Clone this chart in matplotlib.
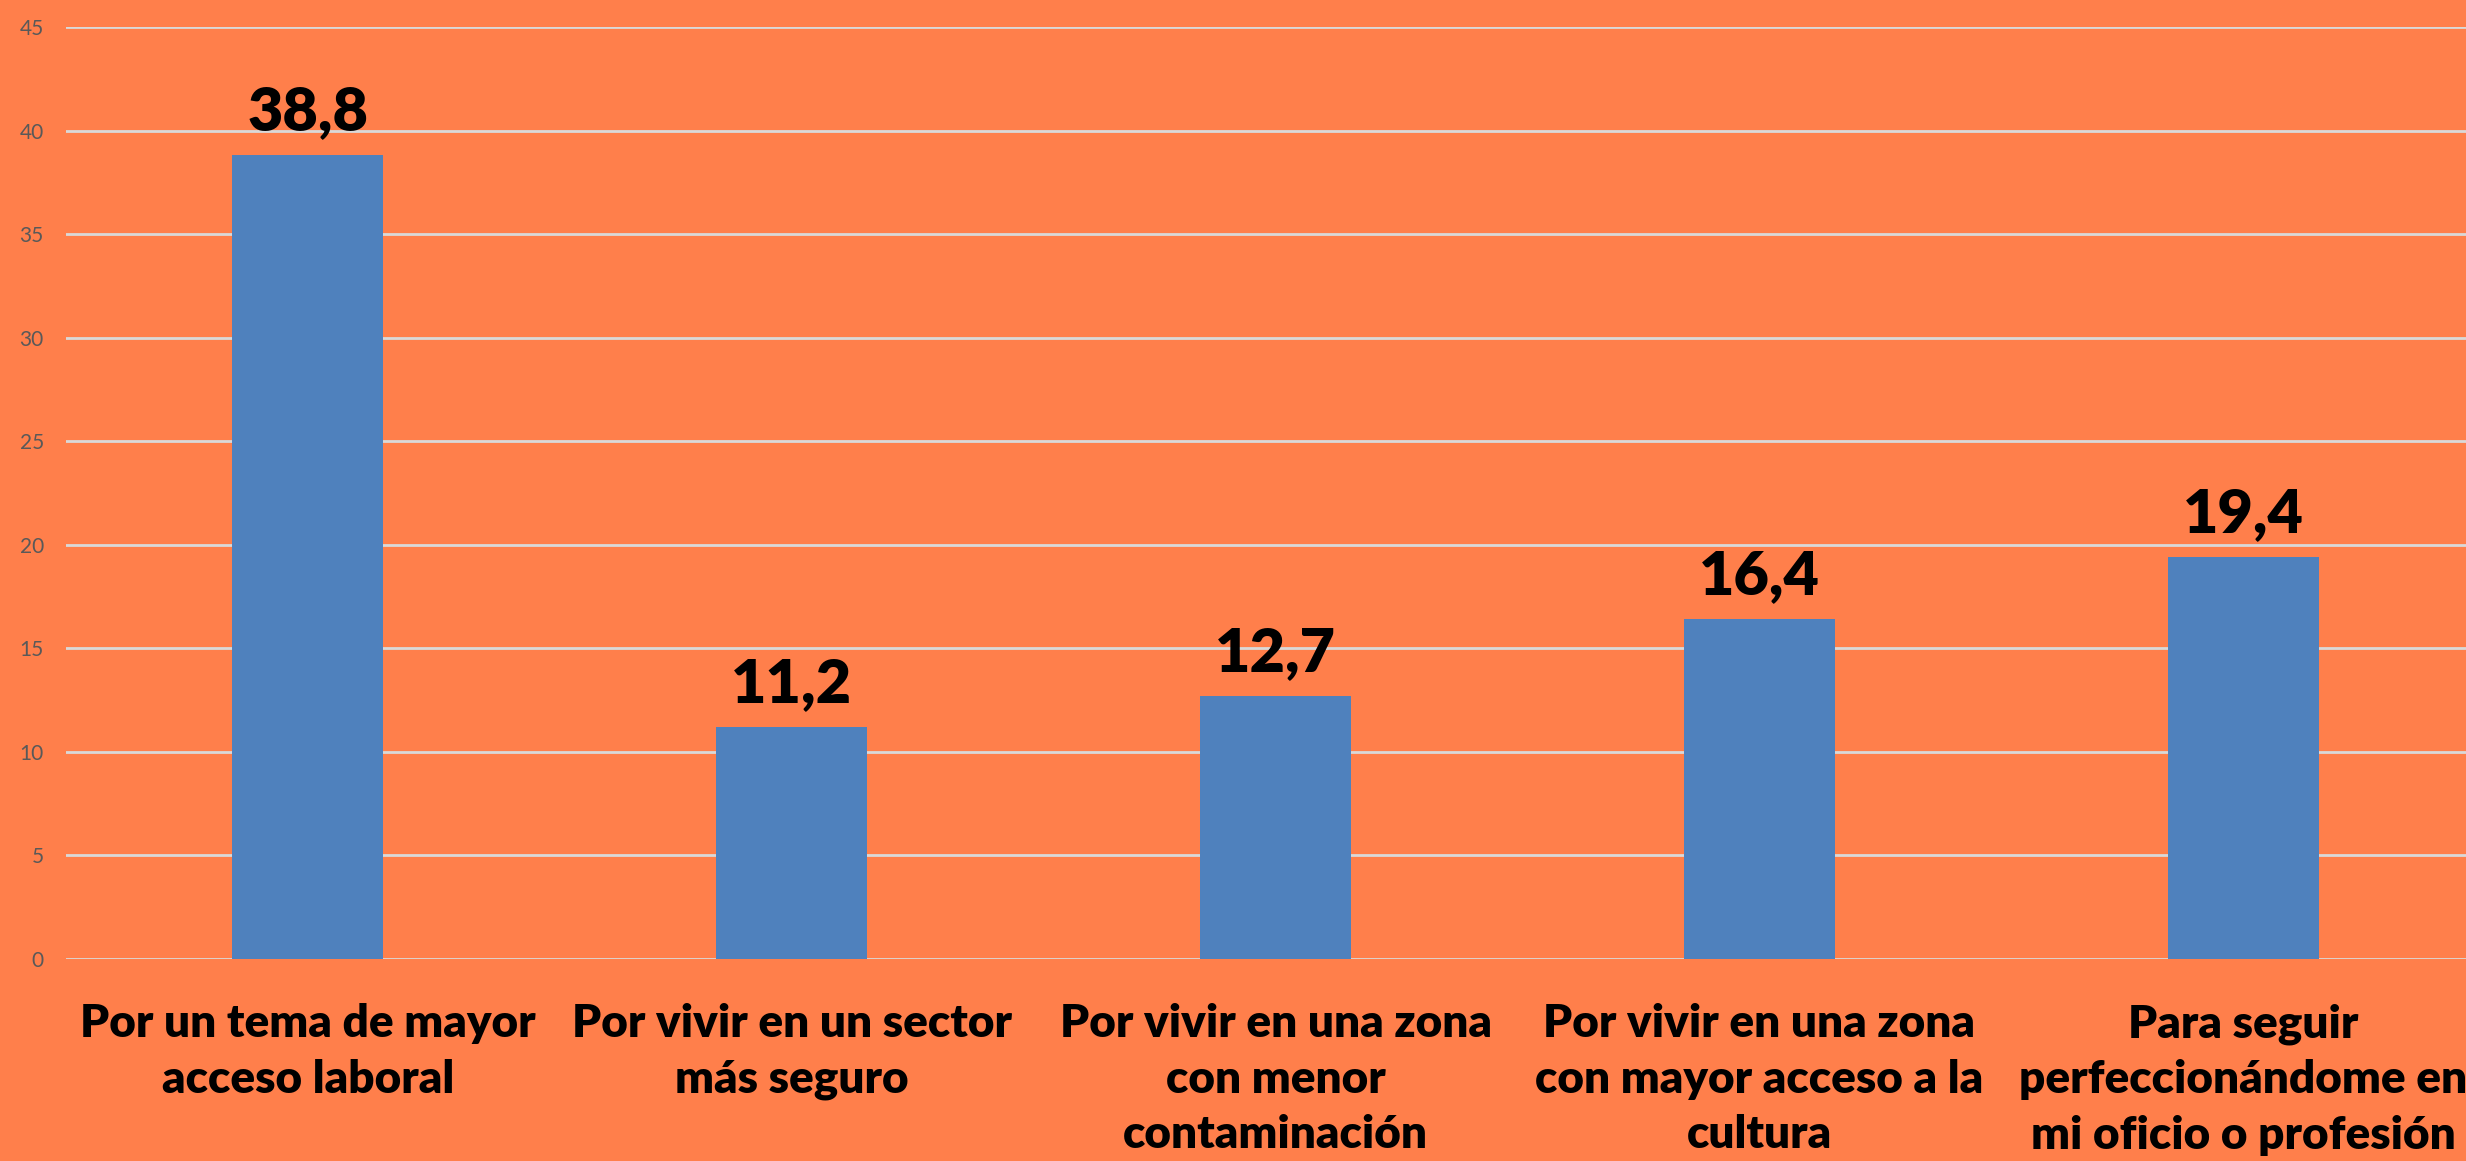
import matplotlib
matplotlib.use("Agg")
import matplotlib.pyplot as plt
import numpy as np

categories = [
    "Por un tema de mayor\nacceso laboral",
    "Por vivir en un sector\nmás seguro",
    "Por vivir en una zona\ncon menor\ncontaminación",
    "Por vivir en una zona\ncon mayor acceso a la\ncultura",
    "Para seguir\nperfeccionándome en\nmi oficio o profesión",
]
values = [38.8, 11.2, 12.7, 16.4, 19.4]
value_labels = ["38,8", "11,2", "12,7", "16,4", "19,4"]
yticks = [0, 5, 10, 15, 20, 25, 30, 35, 40, 45]

BG = "#FF7F4B"
BAR = "#4F81BD"
GRID = "#D9D9D9"

plt.rcParams['font.family'] = ['Lato', 'DejaVu Sans']

fig = plt.figure(figsize=(24.66, 11.61), dpi=100)
fig.patch.set_facecolor(BG)
ax = fig.add_axes([66/2466, 1-959/1161, (2485-66)/2466, (959-27)/1161])
ax.set_facecolor(BG)

x = np.arange(len(categories))
ax.bar(x, values, width=0.312, color=BAR, zorder=3)

ax.set_xlim(-0.5, 4.5)
ax.set_ylim(0, 45)
ax.set_yticks(yticks)
ax.set_yticklabels([str(t) for t in yticks], color="#595959", fontsize=15)
ax.yaxis.grid(True, color=GRID, linewidth=2, zorder=0)
ax.set_axisbelow(True)
ax.tick_params(axis='y', length=0, pad=16)
ax.tick_params(axis='x', length=0, pad=32)
ax.set_xticks(x)
ax.set_xticklabels(categories, fontsize=33, fontweight='heavy', color='black',
                   linespacing=1.42, ha='center', va='top')
for s in ax.spines.values():
    s.set_visible(False)

for xi, v, lab in zip(x, values, value_labels):
    ax.annotate(lab, (xi, v), xytext=(0, 18), textcoords='offset points',
                ha='center', va='baseline', fontsize=44, fontweight='heavy',
                color='black')

fig.savefig("out.png", dpi=100, facecolor=BG)
